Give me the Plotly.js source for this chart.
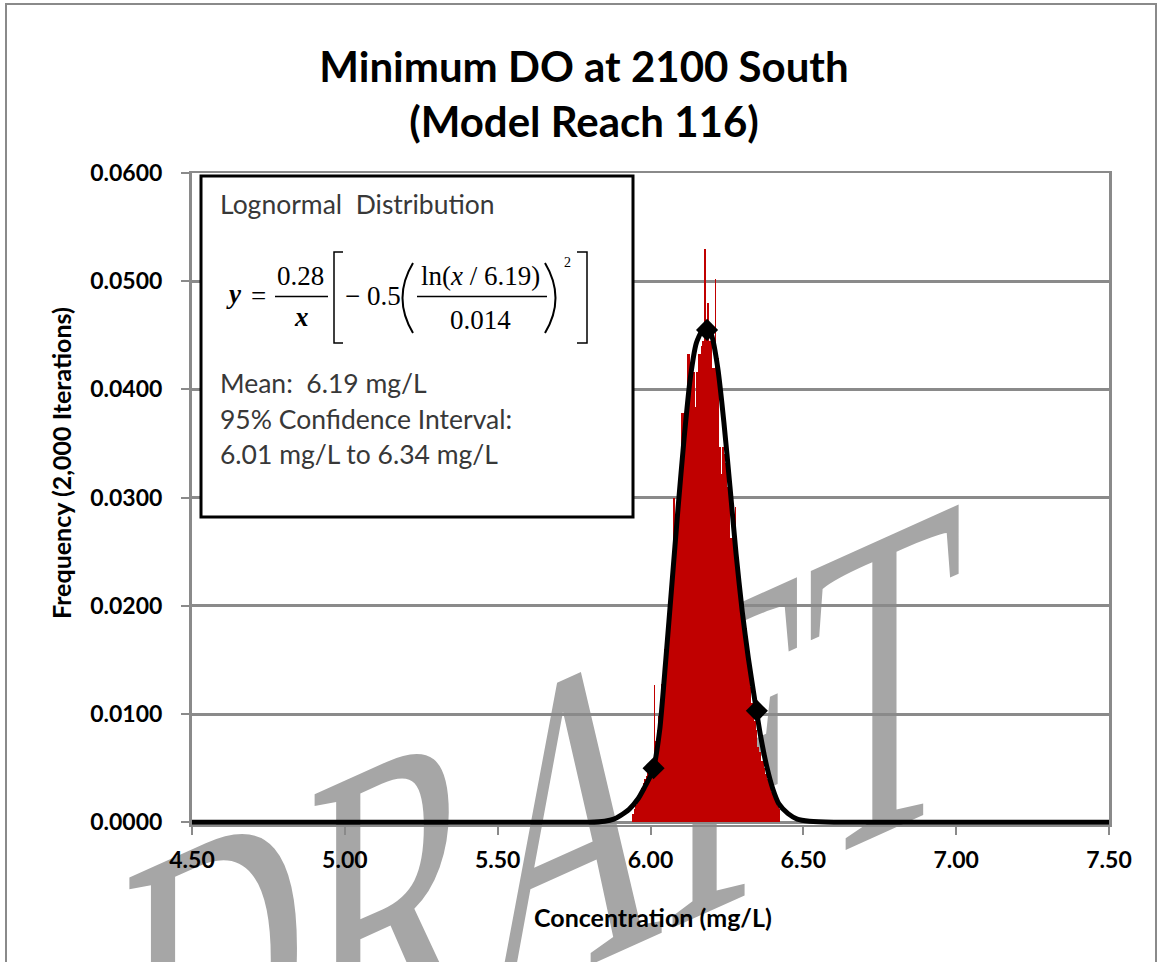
<!DOCTYPE html>
<html><head><meta charset="utf-8">
<script src="https://cdn.plot.ly/plotly-3.0.1.min.js"></script>
<style>
html,body{margin:0;padding:0;background:#fff;}
#wrap{position:relative;width:1160px;height:962px;overflow:hidden;background:#fff;}
#wm{position:absolute;left:0;top:0;z-index:0;}
#chart{position:absolute;left:0;top:0;width:1160px;height:962px;z-index:1;}
#frame{position:absolute;left:5px;top:3px;width:1148px;height:1000px;border:2px solid #8a8a8a;z-index:2;pointer-events:none;}
</style></head><body>
<div id="wrap">
<svg id="wm" width="1160" height="962"><text font-family="Liberation Serif, 'Times New Roman', serif" font-size="450" fill="#a6a6a6" transform="matrix(0.57,-0.2565,0,1,122,1175.6)">DRAFT</text></svg>
<div id="chart"></div>
<div id="frame"></div>
</div>
<script>
// ---- Data ----
const binCenters = [
5.9425,5.9475,5.9525,5.9575,5.9625,5.9675,5.9725,5.9775,5.9825,5.9875,
5.9925,5.9975,6.0025,6.0075,6.0125,6.0175,6.0225,6.0275,6.0325,6.0375,
6.0425,6.0475,6.0525,6.0575,6.0625,6.0675,6.0725,6.0775,6.0825,6.0875,
6.0925,6.0975,6.1025,6.1075,6.1125,6.1175,6.1225,6.1275,6.1325,6.1375,
6.1425,6.1475,6.1525,6.1575,6.1625,6.1675,6.1725,6.1775,6.1825,6.1875,
6.1925,6.1975,6.2025,6.2075,6.2125,6.2175,6.2225,6.2275,6.2325,6.2375,
6.2425,6.2475,6.2525,6.2575,6.2625,6.2675,6.2725,6.2775,6.2825,6.2875,
6.2925,6.2975,6.3025,6.3075,6.3125,6.3175,6.3225,6.3275,6.3325,6.3375,
6.3425,6.3475,6.3525,6.3575,6.3625,6.3675,6.3725,6.3775,6.3825,6.3875,
6.3925,6.3975,6.4025,6.4075,6.4125,6.4175,6.4225];
const binFrequency = [
0.0008,0.0012,0.0016,0.0020,0.0025,0.0028,0.0032,0.0036,0.0040,0.0043,
0.0046,0.0050,0.0054,0.0058,0.0127,0.0075,0.0085,0.0098,0.0112,0.0128,
0.0145,0.0160,0.0175,0.0190,0.0205,0.0218,0.0232,0.0300,0.0262,0.0278,
0.0295,0.0312,0.0378,0.0378,0.0360,0.0375,0.0433,0.0433,0.0410,0.0416,
0.0416,0.0384,0.0416,0.0433,0.0433,0.0440,0.0445,0.0530,0.0455,0.0480,
0.0445,0.0445,0.0420,0.0420,0.0502,0.0430,0.0429,0.0347,0.0322,0.0347,
0.0340,0.0332,0.0310,0.0310,0.0263,0.0263,0.0255,0.0291,0.0240,0.0242,
0.0214,0.0214,0.0202,0.0190,0.0180,0.0165,0.0140,0.0125,0.0110,0.0100,
0.0094,0.0085,0.0070,0.0065,0.0057,0.0057,0.0050,0.0045,0.0040,0.0044,
0.0035,0.0028,0.0025,0.0022,0.0018,0.0015,0.0012];
const binWidth = 0.005;

const curveX = [4.50,5.70,5.80,5.85,5.88,5.90,5.93,5.96,5.98,6.00,6.01,6.03,6.05,6.07,6.09,6.11,6.13,6.15,6.17,6.185,6.20,6.22,6.24,6.26,6.28,6.30,6.32,6.34,6.36,6.38,6.40,6.42,6.45,6.48,6.52,6.60,7.50];
const curveY = [0,0,0,0.0001,0.0003,0.0006,0.0012,0.0022,0.0032,0.0043,0.0050,0.0085,0.0150,0.0220,0.0290,0.0355,0.0410,0.0443,0.0455,0.0457,0.0450,0.0420,0.0370,0.0310,0.0248,0.0195,0.0152,0.0115,0.0080,0.0052,0.0031,0.0017,0.0008,0.0003,0.0001,0,0];

const markerX = [6.01, 6.185, 6.348];
const markerY = [0.0050, 0.0455, 0.0103];

const xTickVals = [4.5,5.0,5.5,6.0,6.5,7.0,7.5];
const yTickVals = [0,0.01,0.02,0.03,0.04,0.05,0.06];

const titleText = 'Minimum DO at 2100 South<br>(Model Reach 116)';
const xTitle = 'Concentration (mg/L)';
const yTitle = 'Frequency (2,000 Iterations)';
const boxLines = ['Lognormal\u00a0\u00a0Distribution','Mean:\u00a0\u00a06.19\u00a0mg/L','95%\u00a0Confidence Interval:','6.01\u00a0mg/L to 6.34\u00a0mg/L'];

// ---- Layout helpers (pixel -> paper) ----
const L=192, R=1109, T=173, B=825;
const px = X => (X-L)/(R-L);
const py = Y => (B-Y)/(B-T);

const boldFont = 'Lato, "Open Sans", sans-serif';
const serif = '"Liberation Serif", "Times New Roman", serif';

const traces = [
  {type:'bar', x:binCenters, y:binFrequency, width:binWidth,
   marker:{color:'#C00000', line:{width:0}}, hoverinfo:'skip', showlegend:false},
  {type:'scatter', mode:'lines', x:curveX, y:curveY,
   line:{color:'#000', width:5, shape:'spline', smoothing:0.6}, hoverinfo:'skip', showlegend:false},
  {type:'scatter', mode:'markers', x:markerX, y:markerY,
   marker:{symbol:'diamond', size:17, color:'#000'}, hoverinfo:'skip', showlegend:false}
];

const ann = [];
function txt(text, X, Y, opts){
  ann.push(Object.assign({text:text, x:px(X), y:py(Y), xref:'paper', yref:'paper', showarrow:false,
    xanchor:'left', yanchor:'middle', font:{family:boldFont, size:26.5, color:'#383838'}}, opts||{}));
}
txt(boxLines[0], 218, 204);
txt(boxLines[1], 218, 383);
txt(boxLines[2], 218, 419);
txt(boxLines[3], 218, 454);
const ef = {family:serif, size:27, color:'#000'};
txt('<b><i>y</i></b>', 234, 294, {xanchor:'center', font:ef});
txt('=', 258, 296, {xanchor:'center', font:ef});
txt('0.28', 300, 276, {xanchor:'center', font:ef});
txt('<b><i>x</i></b>', 301, 317, {xanchor:'center', font:ef});
txt('\u2212 0.5', 373, 296, {xanchor:'center', font:ef});
txt('ln(<i>x</i> / 6.19)', 480, 276, {xanchor:'center', font:ef});
txt('0.014', 480, 320, {xanchor:'center', font:ef});
txt('2', 567, 262, {xanchor:'center', font:{family:serif, size:14, color:'#000'}});
// axis titles
const titleFont = {family:boldFont, size:25, color:'#000', weight:'bold'};
txt(xTitle, 653, 917, {xanchor:'center', font:titleFont});
txt(yTitle, 61, 463, {xanchor:'center', textangle:-90, font:titleFont});

const shapes = [
  {type:'rect', xref:'paper', yref:'paper', x0:px(201), x1:px(633), y0:py(517), y1:py(176),
   line:{color:'#000', width:3}, fillcolor:'#fff', layer:'above'},
  {type:'line', xref:'paper', yref:'paper', x0:px(275), x1:px(328), y0:py(296.5), y1:py(296.5), line:{color:'#000', width:1.5}, layer:'above'},
  {type:'line', xref:'paper', yref:'paper', x0:px(417), x1:px(547), y0:py(296.5), y1:py(296.5), line:{color:'#000', width:1.5}, layer:'above'},
  {type:'path', xref:'paper', yref:'paper', layer:'above', line:{color:'#000', width:1.5},
   path:`M ${px(343)} ${py(252)} L ${px(334)} ${py(252)} L ${px(334)} ${py(343)} L ${px(343)} ${py(343)}`},
  {type:'path', xref:'paper', yref:'paper', layer:'above', line:{color:'#000', width:1.5},
   path:`M ${px(577)} ${py(252)} L ${px(587)} ${py(252)} L ${px(587)} ${py(343)} L ${px(577)} ${py(343)}`},
  {type:'path', xref:'paper', yref:'paper', layer:'above', line:{color:'#000', width:2},
   path:`M ${px(413)} ${py(263)} Q ${px(392)} ${py(298)} ${px(413)} ${py(333)}`},
  {type:'path', xref:'paper', yref:'paper', layer:'above', line:{color:'#000', width:2},
   path:`M ${px(545)} ${py(263)} Q ${px(566)} ${py(298)} ${px(545)} ${py(333)}`}
];

const axisFont = {family:boldFont, size:23, color:'#000', weight:'bold'};
const layout = {
  width:1160, height:962, autosize:false,
  margin:{l:L, r:1160-R, t:T, b:962-B, pad:0},
  paper_bgcolor:'rgba(0,0,0,0)', plot_bgcolor:'rgba(0,0,0,0)',
  bargap:0, showlegend:false,
  title:{text:titleText, xref:'container', yref:'container', x:584/1160, xanchor:'center', y:1-82/962, yanchor:'top',
    font:{family:boldFont, size:42, color:'#000', weight:'bold'}},
  xaxis:{range:[4.5,7.5], tickvals:xTickVals, tickformat:'.2f', ticks:'outside', ticklen:8, tickwidth:2, tickcolor:'#8a8a8a',
    showgrid:false, zeroline:false, showline:true, linecolor:'#8a8a8a', linewidth:2, mirror:true,
    tickfont:axisFont, ticklabelstandoff:5},
  yaxis:{range:[-0.00025,0.06], tickvals:yTickVals, tickformat:'.4f', ticks:'outside', ticklen:8, tickwidth:2, tickcolor:'#8a8a8a',
    showgrid:true, gridcolor:'#8a8a8a', gridwidth:3, zeroline:false, showline:true, linecolor:'#8a8a8a', linewidth:3, mirror:true,
    tickfont:axisFont, ticklabelstandoff:14},
  annotations:ann, shapes:shapes
};

Plotly.newPlot('chart', traces, layout, {staticPlot:true, displayModeBar:false});
</script>
</body></html>
